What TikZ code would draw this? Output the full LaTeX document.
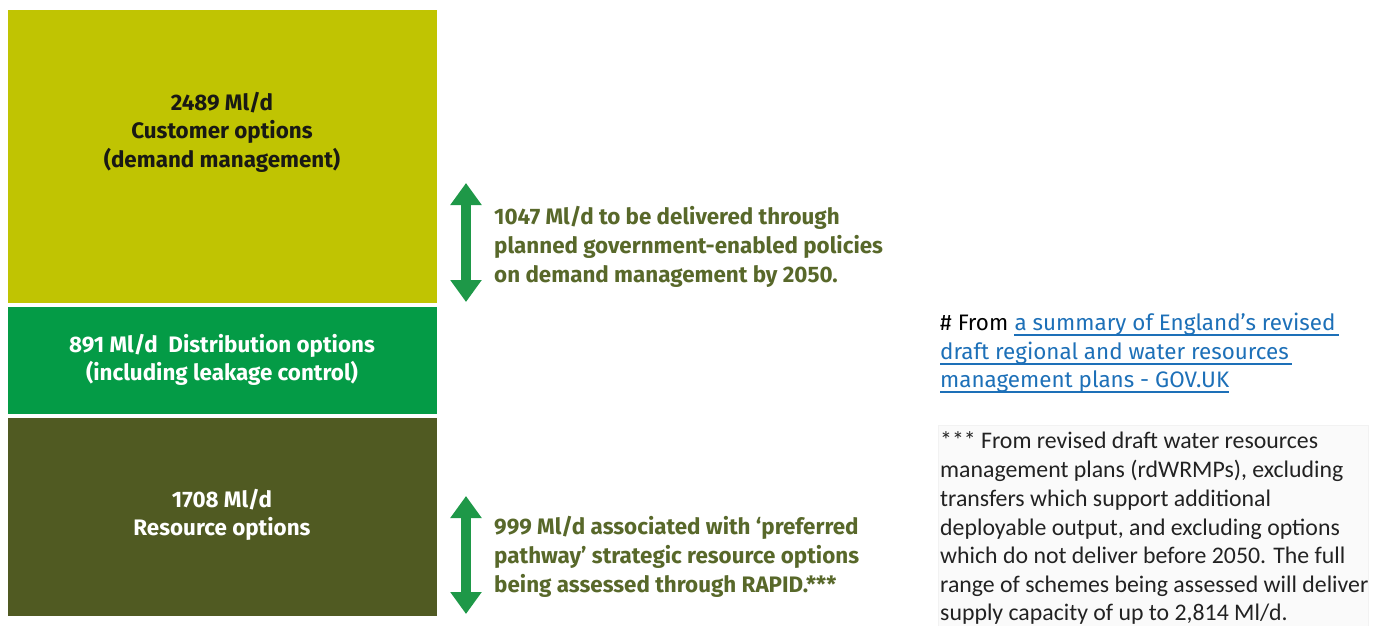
\documentclass[tikz,border=0pt]{standalone}
\usepackage{fontspec}
\setmainfont{Fira Sans}
\newfontfamily\notefont{Carlito}
\usetikzlibrary{arrows.meta}
\definecolor{custfill}{RGB}{192,196,2}
\definecolor{distfill}{RGB}{4,155,70}
\definecolor{resfill}{RGB}{80,90,34}
\definecolor{arrowgreen}{RGB}{30,152,72}
\definecolor{notegreen}{RGB}{88,104,42}
\definecolor{linkblue}{RGB}{29,112,184}
\definecolor{boxtext}{RGB}{25,25,20}
\definecolor{notegrey}{RGB}{34,34,34}
\tikzset{
  band/.style={draw=none, inner sep=0pt, anchor=north west},
  bandlabel/.style={font=\fontsize{22.4}{28.5}\selectfont\bfseries, align=center, inner sep=0pt},
  span/.style={line width=10pt, arrowgreen,
    {Triangle[width=30pt,length=22pt]}-{Triangle[width=30pt,length=22pt]}},
  sidenote/.style={font=\fontsize{22.4}{29}\selectfont\bfseries, text=notegreen,
    align=left, anchor=north west, inner sep=0pt},
  srcline/.style={font=\fontsize{22.4}{28.5}\selectfont, anchor=base west, inner sep=0pt},
  linkrule/.style={linkblue, line width=1.2pt},
  footline/.style={font=\notefont\fontsize{23.8}{28.7}\selectfont, text=notegrey,
    anchor=base west, inner sep=0pt},
}
\begin{document}
\begin{tikzpicture}[x=1pt,y=-1pt]
\useasboundingbox (0,0) rectangle (1381,625);
\fill[white] (0,0) rectangle (1381,625);

% stacked option bands
\node[band, fill=custfill, minimum width=429pt, minimum height=293pt] (cust) at (8,10) {};
\node[band, fill=distfill, minimum width=429pt, minimum height=107pt] (dist) at (8,307) {};
\node[band, fill=resfill, minimum width=429pt, minimum height=198pt] (res) at (8,418) {};

\node[bandlabel, text=boxtext] (custlab) at (222,132) {2489 Ml/d\\Customer options\\(demand management)};
\node[bandlabel, text=white] (distlab) at (222,360) {891 Ml/d\ \ Distribution options\\(including leakage control)};
\node[bandlabel, text=white] (reslab) at (222,515) {1708 Ml/d\\Resource options};

% double-headed span arrows
\coordinate (demtop) at (466,183);
\coordinate (dembot) at (466,302);
\draw[span] (demtop) -- (dembot);
\coordinate (stratop) at (466,496);
\coordinate (strabot) at (466,614);
\draw[span] (stratop) -- (strabot);

\node[sidenote] (demnote) at (494,206) {1047 Ml/d to be delivered through\\planned government-enabled policies\\on demand management by 2050.};
\node[sidenote] (stranote) at (494,516) {999 Ml/d associated with `preferred\\pathway' strategic resource options\\being assessed through RAPID.***};

% source reference
\node[srcline] (src1a) at (940,330) {\# From};
\node[srcline, text=linkblue] (src1b) at ([xshift=6pt]src1a.base east) {a summary of England’s revised};
\node[srcline, text=linkblue] (src2) at (940,359) {draft regional and water resources};
\node[srcline, text=linkblue] (src3) at (940,387) {management plans - GOV.UK};
\draw[linkrule] ([yshift=-5pt]src1b.base west) -- ([yshift=-5pt,xshift=3pt]src1b.base east);
\draw[linkrule] ([yshift=-5pt]src2.base west) -- ([yshift=-5pt,xshift=3pt]src2.base east);
\draw[linkrule] ([yshift=-5pt]src3.base west) -- ([yshift=-5pt]src3.base east);

% footnote panel
\node[band, fill=black!2, draw=black!5, minimum width=430pt, minimum height=210pt] (notepanel) at (938,425) {};
\node[footline] (f1) at (940,448) {*** From revised draft water resources};
\node[footline] (f2) at (940,477) {management plans (rdWRMPs), excluding};
\node[footline] (f3) at (940,506) {transfers which support additional};
\node[footline] (f4) at (940,535) {deployable output, and excluding options};
\node[footline] (f5) at (940,563) {which do not deliver before 2050. The full};
\node[footline] (f6) at (940,592) {range of schemes being assessed will deliver};
\node[footline] (f7) at (940,620) {supply capacity of up to 2,814 Ml/d.};
\end{tikzpicture}
\end{document}
